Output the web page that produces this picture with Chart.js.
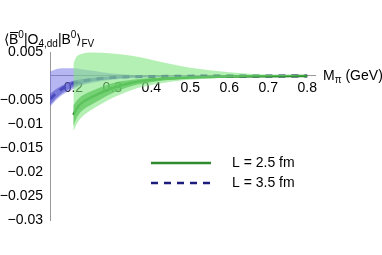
<!DOCTYPE html>
<html>
<head>
<meta charset="utf-8">
<script src="https://cdn.jsdelivr.net/npm/chart.js@4.4.1/dist/chart.umd.min.js"></script>
<style>
  html, body { margin: 0; padding: 0; background: #fff; }
  #wrap { width: 382px; height: 255px; }
</style>
</head>
<body>
<div id="wrap"><canvas id="chart"></canvas></div>
<script>
// M_pi values (GeV)
const mBlue = [0.14, 0.16, 0.18, 0.2, 0.22, 0.25, 0.3, 0.35, 0.4, 0.5, 0.6, 0.7, 0.8]
const mGreen = [0.2, 0.205, 0.21, 0.22, 0.25, 0.3, 0.35, 0.4, 0.45, 0.5, 0.6, 0.7, 0.8]

// L = 3.5 fm
const blueCentral = [-0.0048, -0.0033, -0.0022, -0.0015, -0.0011, -0.0007, -0.0003, -0.00015, -0.0001, -0.00003, 0, 0, 0]
const blueInnerUp = [-0.0037, -0.0025, -0.0016, -0.001, -0.0007, -0.0004, -0.0001, 0, 0, 0, 0, 0, 0]
const blueInnerLo = [-0.006, -0.0043, -0.0031, -0.0023, -0.0017, -0.0011, -0.0006, -0.0003, -0.0002, -0.00006, -0.00002, 0, 0]
const blueOuterUp = [0.0009, 0.0015, 0.0016, 0.0016, 0.0014, 0.0011, 0.0005, 0.0002, 0.0001, 0.00003, 0, 0, 0]
const blueOuterLo = [-0.0064, -0.0047, -0.0035, -0.0027, -0.002, -0.0014, -0.0008, -0.0004, -0.00025, -0.0001, -0.00003, 0, 0]

// L = 2.5 fm
const greenCentral = [-0.0081, -0.0073, -0.0066, -0.0057, -0.0043, -0.0025, -0.0014, -0.0008, -0.0005, -0.0003, -0.0001, -0.00003, 0]
const greenInnerUp = [-0.0061, -0.0055, -0.005, -0.0042, -0.003, -0.0015, -0.0008, -0.0004, -0.0002, -0.0001, 0, 0, 0]
const greenInnerLo = [-0.0104, -0.0094, -0.0085, -0.0074, -0.0058, -0.0036, -0.0021, -0.0013, -0.0008, -0.0005, -0.0002, -0.00008, -0.00003]
const greenOuterUp = [0.0025, 0.0036, 0.0042, 0.0046, 0.0049, 0.0047, 0.0042, 0.0034, 0.0025, 0.0017, 0.0008, 0.0003, 0.0001]
const greenOuterLo = [-0.0115, -0.0106, -0.0098, -0.0087, -0.0069, -0.0046, -0.0029, -0.0019, -0.0012, -0.0008, -0.0003, -0.0001, -0.00005]

const xTicks = [0.2, 0.3, 0.4, 0.5, 0.6, 0.7, 0.8]
const yTicks = [0.005, -0.005, -0.01, -0.015, -0.02, -0.025, -0.03]
const legendLabels = ["L = 2.5 fm", "L = 3.5 fm"]

const FONT = "Liberation Sans, Arial, sans-serif"

function pts(xs, ys) {
    return xs.map((x, i) => ({ x: x, y: ys[i] }))
}

function band(xs, up, lo, color) {
    return [
        { data: pts(xs, up), borderWidth: 0, pointRadius: 0, fill: "+1", backgroundColor: color, cubicInterpolationMode: "monotone" },
        { data: pts(xs, lo), borderWidth: 0, pointRadius: 0, fill: false, cubicInterpolationMode: "monotone" },
    ]
}

const titlePlugin = {
    id: "titles",
    afterDraw(chart) {
        const ctx = chart.ctx
        ctx.save()
        ctx.fillStyle = "#000"
        ctx.textBaseline = "alphabetic"
        // y-axis title with sub/superscripts
        let x = 4
        const base = 44
        const parts = [
            ["\u27E8", 14, 0],
            ["B", 14, 0, true],
            ["0", 10, -6],
            ["|O", 14, 0],
            ["4,dd", 10, 3],
            ["|B", 14, 0],
            ["0", 10, -6],
            ["\u27E9", 14, 0],
            ["FV", 10, 3],
        ]
        for (const p of parts) {
            ctx.font = p[1] + "px " + FONT
            ctx.fillText(p[0], x, base + p[2])
            const w = ctx.measureText(p[0]).width
            if (p[3]) {
                ctx.fillRect(x + 1, base - 12, w - 1, 1)
            }
            x += w
        }
        // x-axis title
        const y0 = chart.scales.y.getPixelForValue(0)
        ctx.font = "14px " + FONT
        ctx.textBaseline = "middle"
        ctx.fillText("M", 323, y0)
        let w = ctx.measureText("M").width
        ctx.font = "10px " + FONT
        ctx.fillText("\u03C0", 323 + w, y0 + 4)
        w += ctx.measureText("\u03C0").width
        ctx.font = "14px " + FONT
        ctx.fillText(" (GeV)", 323 + w, y0)

        // legend
        ctx.lineWidth = 2.5
        ctx.strokeStyle = "#2e8b2e"
        ctx.beginPath()
        ctx.moveTo(151, 163)
        ctx.lineTo(211, 163)
        ctx.stroke()
        ctx.strokeStyle = "#1c1c7c"
        ctx.setLineDash([7, 6])
        ctx.beginPath()
        ctx.moveTo(151, 183)
        ctx.lineTo(213, 183)
        ctx.stroke()
        ctx.setLineDash([])
        ctx.font = "14px " + FONT
        ctx.fillText(legendLabels[0], 232, 163)
        ctx.fillText(legendLabels[1], 232, 183)
        ctx.restore()
    },
}

new Chart(document.getElementById("chart"), {
    type: "line",
    data: {
        datasets: [
            ...band(mGreen, greenOuterUp, greenOuterLo, "rgba(130,230,130,0.6)"),
            ...band(mBlue, blueOuterUp, blueOuterLo, "rgba(110,110,230,0.5)"),
            ...band(mGreen, greenInnerUp, greenInnerLo, "rgba(40,150,40,0.75)"),
            ...band(mBlue, blueInnerUp, blueInnerLo, "rgba(50,50,170,0.6)"),
            {
                data: pts(mGreen, greenCentral),
                borderColor: "#1f7f1f",
                borderWidth: 2.5,
                pointRadius: 0,
                fill: false,
                cubicInterpolationMode: "monotone",
            },
            {
                data: pts(mBlue, blueCentral),
                borderColor: "#1c1c7c",
                borderWidth: 3,
                borderDash: [7, 6],
                pointRadius: 0,
                fill: false,
                cubicInterpolationMode: "monotone",
            },
        ],
    },
    options: {
        responsive: true,
        maintainAspectRatio: false,
        animation: false,
        layout: { padding: { left: 0, top: 52, right: 67, bottom: 35 } },
        plugins: { legend: { display: false }, tooltip: { enabled: false } },
        scales: {
            x: {
                type: "linear",
                min: 0.14,
                max: 0.82,
                position: { y: 0 },
                grid: { display: false, tickLength: 4 },
                border: { color: "#999", width: 1 },
                afterBuildTicks: (axis) => {
                    axis.ticks = xTicks.map((v) => ({ value: v }))
                },
                ticks: {
                    font: { family: FONT, size: 14 },
                    color: "#000",
                    padding: 0,
                    maxRotation: 0,
                    autoSkip: false,
                    callback: (v) => v.toFixed(1),
                },
            },
            y: {
                type: "linear",
                min: -0.03,
                max: 0.005,
                grid: { display: false, tickLength: 4 },
                border: { color: "#999", width: 1 },
                afterFit: (axis) => {
                    axis.width = 50
                },
                afterBuildTicks: (axis) => {
                    axis.ticks = yTicks.map((v) => ({ value: v }))
                },
                ticks: {
                    font: { family: FONT, size: 14 },
                    color: "#000",
                    padding: 3,
                    autoSkip: false,
                    callback: (v) => String(Math.round(v * 1000) / 1000).replace("-", "\u2212"),
                },
            },
        },
    },
    plugins: [titlePlugin],
})
</script>
</body>
</html>
